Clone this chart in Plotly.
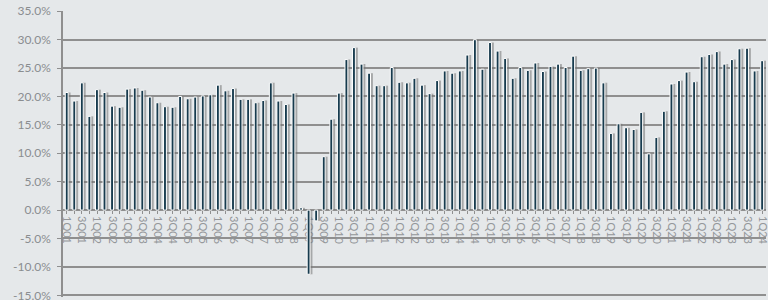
import plotly.graph_objects as go

# Quarterly categories 1Q01 .. 1Q24
quarters = [f"{q}Q{y:02d}" for y in range(1, 25) for q in range(1, 5)][:93]

values = [
    20.7, 19.2, 22.4, 16.5, 21.2, 20.7, 18.3, 18.1,   # 2001-2002
    21.3, 21.5, 21.1, 19.9, 18.9, 18.2, 18.1, 20.0,   # 2003-2004
    19.6, 19.9, 20.1, 20.3, 22.0, 21.0, 21.4, 19.5,   # 2005-2006
    19.5, 18.9, 19.3, 22.4, 19.2, 18.6, 20.6, 0.4,    # 2007-2008
    -11.3, -1.9, 9.4, 16.0, 20.6, 26.5, 28.6, 25.7,   # 2009-2010
    24.1, 21.9, 21.9, 25.1, 22.5, 22.4, 23.2, 22.0,   # 2011-2012
    20.5, 22.8, 24.5, 24.1, 24.5, 27.3, 30.0, 24.8,   # 2013-2014
    29.5, 28.0, 26.7, 23.2, 25.1, 24.6, 25.9, 24.4,   # 2015-2016
    25.3, 25.7, 25.1, 27.1, 24.6, 24.9, 25.0, 22.4,   # 2017-2018
    13.5, 15.2, 14.5, 14.2, 17.2, 9.9, 12.8, 17.4,    # 2019-2020
    22.2, 22.8, 24.3, 22.6, 27.0, 27.4, 27.9, 25.7,   # 2021-2022
    26.5, 28.4, 28.5, 24.5, 26.3,                     # 2023-1Q24
]

tick_text = [q if i % 2 == 0 else "" for i, q in enumerate(quarters)]
y_ticks = [-15, -10, -5, 0, 5, 10, 15, 20, 25, 30, 35]
y_tick_text = [f"{v:.1f}%" for v in y_ticks]

BG = "#e5e8ea"
GRID = "#8f8f8f"
LABEL = "#8a8d90"

fig = go.Figure()
# soft drop shadow
fig.add_trace(go.Bar(
    x=quarters, y=values, width=0.5, offset=0.0,
    marker=dict(color="rgba(115,115,115,0.55)", line=dict(width=0)),
    hoverinfo="skip", showlegend=False,
))
# main bars
fig.add_trace(go.Bar(
    x=quarters, y=values, width=0.38, offset=-0.2,
    marker=dict(color="#173b4e", line=dict(color="#ffffff", width=1)),
    showlegend=False,
))

ymin, ymax = -15.3, 35.05
fig.update_layout(
    width=768, height=300,
    margin=dict(l=63, r=2, t=11, b=3),
    paper_bgcolor=BG, plot_bgcolor=BG,
    barmode="overlay",
    font=dict(family="Lato", color=LABEL),
    xaxis=dict(
        type="category", range=[-0.5, 92.5], automargin=False,
        tickmode="array", tickvals=quarters, ticktext=tick_text,
        tickangle=90, tickfont=dict(size=11, color="#94979a"),
        ticks="outside", ticklen=3, tickcolor=GRID,
        showgrid=False, showline=True, linecolor=GRID, linewidth=1.5,
        anchor="free", position=(0 - ymin) / (ymax - ymin),
        layer="below traces", ticklabeloverflow="allow",
    ),
    yaxis=dict(
        range=[ymin, ymax], automargin=False, tickmode="array", tickvals=y_ticks,
        ticktext=y_tick_text, tickfont=dict(size=12, color=LABEL),
        showgrid=True, gridcolor=GRID, gridwidth=1.6,
        zeroline=False, showline=True, linecolor=GRID, linewidth=1.6,
        ticks="outside", ticklen=4, tickcolor=GRID, ticklabelstandoff=4,
        ticklabeloverflow="allow",
    ),
)

fig.write_html(
    "out.html",
    config={"displayModeBar": False},
    post_script="document.body.style.margin='0';document.body.style.background='%s';" % BG,
)
